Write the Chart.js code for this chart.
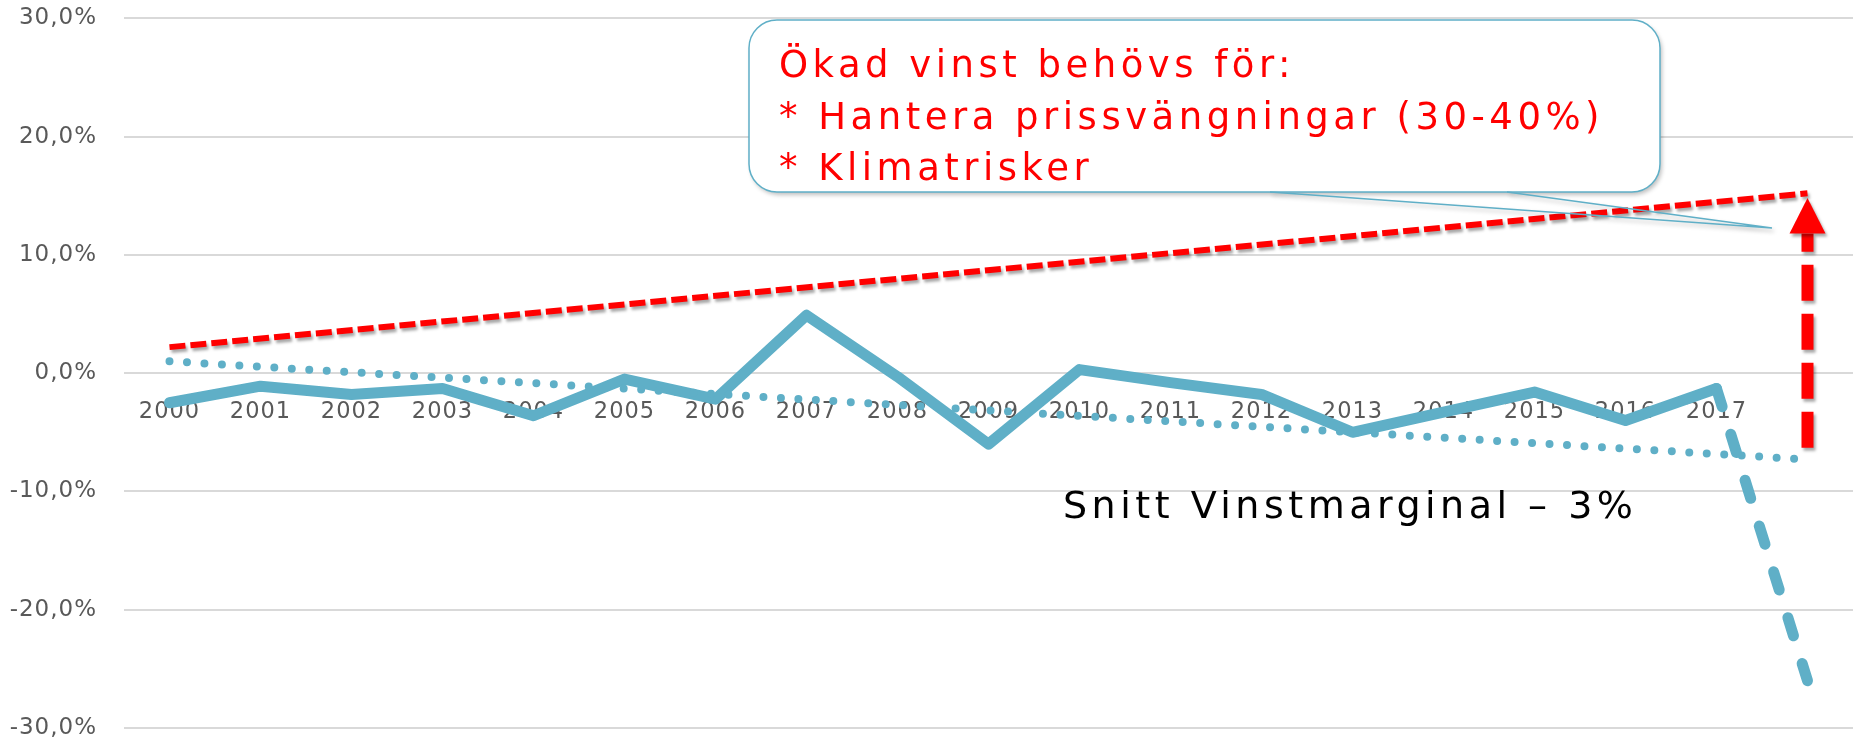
<!DOCTYPE html>
<html>
<head>
<meta charset="utf-8">
<script src="https://cdn.jsdelivr.net/npm/chart.js@4.4.1/dist/chart.umd.min.js"></script>
<style>
  html, body { margin: 0; padding: 0; background: #fff; overflow: hidden; }
  #wrap { width: 1853px; height: 738px; position: relative; }
</style>
</head>
<body>
<div id="wrap"><canvas id="chart"></canvas></div>
<script>
  var years = ['2000', '2001', '2002', '2003', '2004', '2005', '2006', '2007', '2008', '2009',
               '2010', '2011', '2012', '2013', '2014', '2015', '2016', '2017', ''];
  /* profit margin, % */
  var margin = [-2.5, -1.1, -1.8, -1.3, -3.6, -0.5, -2.2, 4.9, -0.3, -6.0,
                0.3, -0.8, -1.8, -5.0, -3.3, -1.6, -4.0, -1.3, null];
  /* 2017 -> 2018 drop */
  var drop = [null, null, null, null, null, null, null, null, null, null,
              null, null, null, null, null, null, null, -1.3, -26.0];
  /* trend line of the margin (only end points, spanned) */
  var trend = [1.0, null, null, null, null, null, null, null, null, null,
               null, null, null, null, null, null, null, null, -7.3];
  /* wanted margin (only end points, spanned) */
  var target = [2.2, null, null, null, null, null, null, null, null, null,
                null, null, null, null, null, null, null, null, 15.2];
  var yTicks = [-30, -20, -10, 0, 10, 20, 30];
  var arrowIndex = 18, arrowFrom = -6.3, arrowHeadBase = 11.8, arrowTo = 14.8;
  var calloutLines = ['Ökad vinst behövs för:', '* Hantera prissvängningar (30-40%)', '* Klimatrisker'];
  var noteText = 'Snitt Vinstmarginal – 3%';

  var BLUE = '#5FAFC7';
  var RED = '#FF0000';
  var FONT = "'DejaVu Sans', sans-serif";

  /* wider letter spacing for axis labels */
  var spacingPlugin = {
    id: 'spacing',
    beforeDraw: function(chart) { chart.ctx.letterSpacing = '1px'; },
    afterDraw: function(chart) { chart.ctx.letterSpacing = '0px'; }
  };

  /* drop shadow for datasets flagged with shadow: true */
  var shadowPlugin = {
    id: 'shadow',
    beforeDatasetDraw: function(chart, args) {
      var ds = chart.data.datasets[args.index];
      if (!ds.shadow) return;
      var ctx = chart.ctx;
      ctx.save();
      ctx.shadowColor = 'rgba(0,0,0,0.35)';
      ctx.shadowBlur = 3;
      ctx.shadowOffsetX = 2;
      ctx.shadowOffsetY = 3;
    },
    afterDatasetDraw: function(chart, args) {
      var ds = chart.data.datasets[args.index];
      if (!ds.shadow) return;
      chart.ctx.restore();
    }
  };

  /* red arrow, callout and note */
  var notesPlugin = {
    id: 'notes',
    afterDatasetsDraw: function(chart) {
      var ctx = chart.ctx;
      var xs = chart.scales.x, ys = chart.scales.y;

      /* arrow */
      var ax = xs.getPixelForValue(arrowIndex);
      var yb = ys.getPixelForValue(arrowFrom);
      var yh = ys.getPixelForValue(arrowHeadBase);
      var yt = ys.getPixelForValue(arrowTo);
      ctx.save();
      ctx.shadowColor = 'rgba(0,0,0,0.35)';
      ctx.shadowBlur = 3;
      ctx.shadowOffsetX = 2;
      ctx.shadowOffsetY = 3;
      ctx.strokeStyle = RED;
      ctx.lineWidth = 12;
      ctx.setLineDash([36, 13]);
      ctx.beginPath();
      ctx.moveTo(ax, yb);
      ctx.lineTo(ax, yh);
      ctx.stroke();
      ctx.setLineDash([]);
      ctx.fillStyle = RED;
      ctx.beginPath();
      ctx.moveTo(ax, yt);
      ctx.lineTo(ax + 18, yh);
      ctx.lineTo(ax - 18, yh);
      ctx.closePath();
      ctx.fill();
      ctx.restore();

      /* callout box */
      var bx = 749, by = 20, bw = 911, bh = 172, r = 28;
      ctx.save();
      ctx.shadowColor = 'rgba(0,0,0,0.25)';
      ctx.shadowBlur = 4;
      ctx.shadowOffsetX = 2;
      ctx.shadowOffsetY = 3;
      ctx.fillStyle = '#fff';
      ctx.beginPath();
      ctx.roundRect(bx, by, bw, bh, r);
      ctx.fill();
      ctx.strokeStyle = BLUE;
      ctx.lineWidth = 1.5;
      ctx.beginPath();
      ctx.moveTo(1270, by + bh);
      ctx.lineTo(1772, 228);
      ctx.lineTo(1507, by + bh);
      ctx.stroke();
      ctx.restore();
      ctx.save();
      ctx.strokeStyle = BLUE;
      ctx.lineWidth = 1.5;
      ctx.beginPath();
      ctx.roundRect(bx, by, bw, bh, r);
      ctx.stroke();
      ctx.restore();

      ctx.save();
      ctx.fillStyle = RED;
      ctx.font = '37px ' + FONT;
      ctx.letterSpacing = '4.5px';
      ctx.textAlign = 'left';
      ctx.textBaseline = 'alphabetic';
      ctx.fillText(calloutLines[0], 779, 77);
      ctx.fillText(calloutLines[1], 779, 128.5);
      ctx.fillText(calloutLines[2], 779, 180);

      ctx.fillStyle = '#000';
      ctx.font = '38px ' + FONT;
      ctx.fillText(noteText, 1063, 518);
      ctx.restore();
    }
  };

  new Chart(document.getElementById('chart'), {
    type: 'line',
    data: {
      labels: years,
      datasets: [
        {
          data: trend,
          borderColor: BLUE,
          borderWidth: 8,
          borderDash: [0, 17.5],
          borderCapStyle: 'round',
          spanGaps: true,
          pointRadius: 0,
          tension: 0
        },
        {
          data: target,
          borderColor: RED,
          borderWidth: 6,
          borderDash: [16, 5],
          spanGaps: true,
          pointRadius: 0,
          tension: 0,
          shadow: true
        },
        {
          data: drop,
          borderColor: BLUE,
          borderWidth: 11,
          borderDash: [19, 29],
          borderCapStyle: 'round',
          pointRadius: 0,
          tension: 0
        },
        {
          data: margin,
          borderColor: BLUE,
          borderWidth: 11,
          borderJoinStyle: 'round',
          borderCapStyle: 'round',
          pointRadius: 0,
          tension: 0
        }
      ]
    },
    options: {
      responsive: true,
      maintainAspectRatio: false,
      animation: false,
      layout: { padding: { top: 18.3, right: 0, bottom: 10, left: 0 } },
      plugins: {
        legend: { display: false },
        tooltip: { enabled: false }
      },
      scales: {
        x: {
          type: 'category',
          offset: true,
          position: { y: 0 },
          grid: { display: false, drawTicks: false },
          border: { display: false },
          ticks: {
            autoSkip: false,
            maxRotation: 0,
            padding: 26,
            color: '#595959',
            font: { family: FONT, size: 22.5 }
          }
        },
        y: {
          min: -30,
          max: 30,
          afterFit: function(scale) { scale.width = 124; },
          afterBuildTicks: function(scale) {
            scale.ticks = yTicks.map(function(v) { return { value: v }; });
          },
          grid: { color: '#D9D9D9', lineWidth: 2, drawTicks: true, tickLength: 27, tickColor: 'rgba(0,0,0,0)' },
          border: { display: false },
          ticks: {
            padding: 0,
            color: '#595959',
            font: { family: FONT, size: 23, lineHeight: 0.8 },
            callback: function(v) { return v.toFixed(1).replace('.', ',') + '%'; }
          }
        }
      }
    },
    plugins: [spacingPlugin, shadowPlugin, notesPlugin]
  });
</script>
</body>
</html>
